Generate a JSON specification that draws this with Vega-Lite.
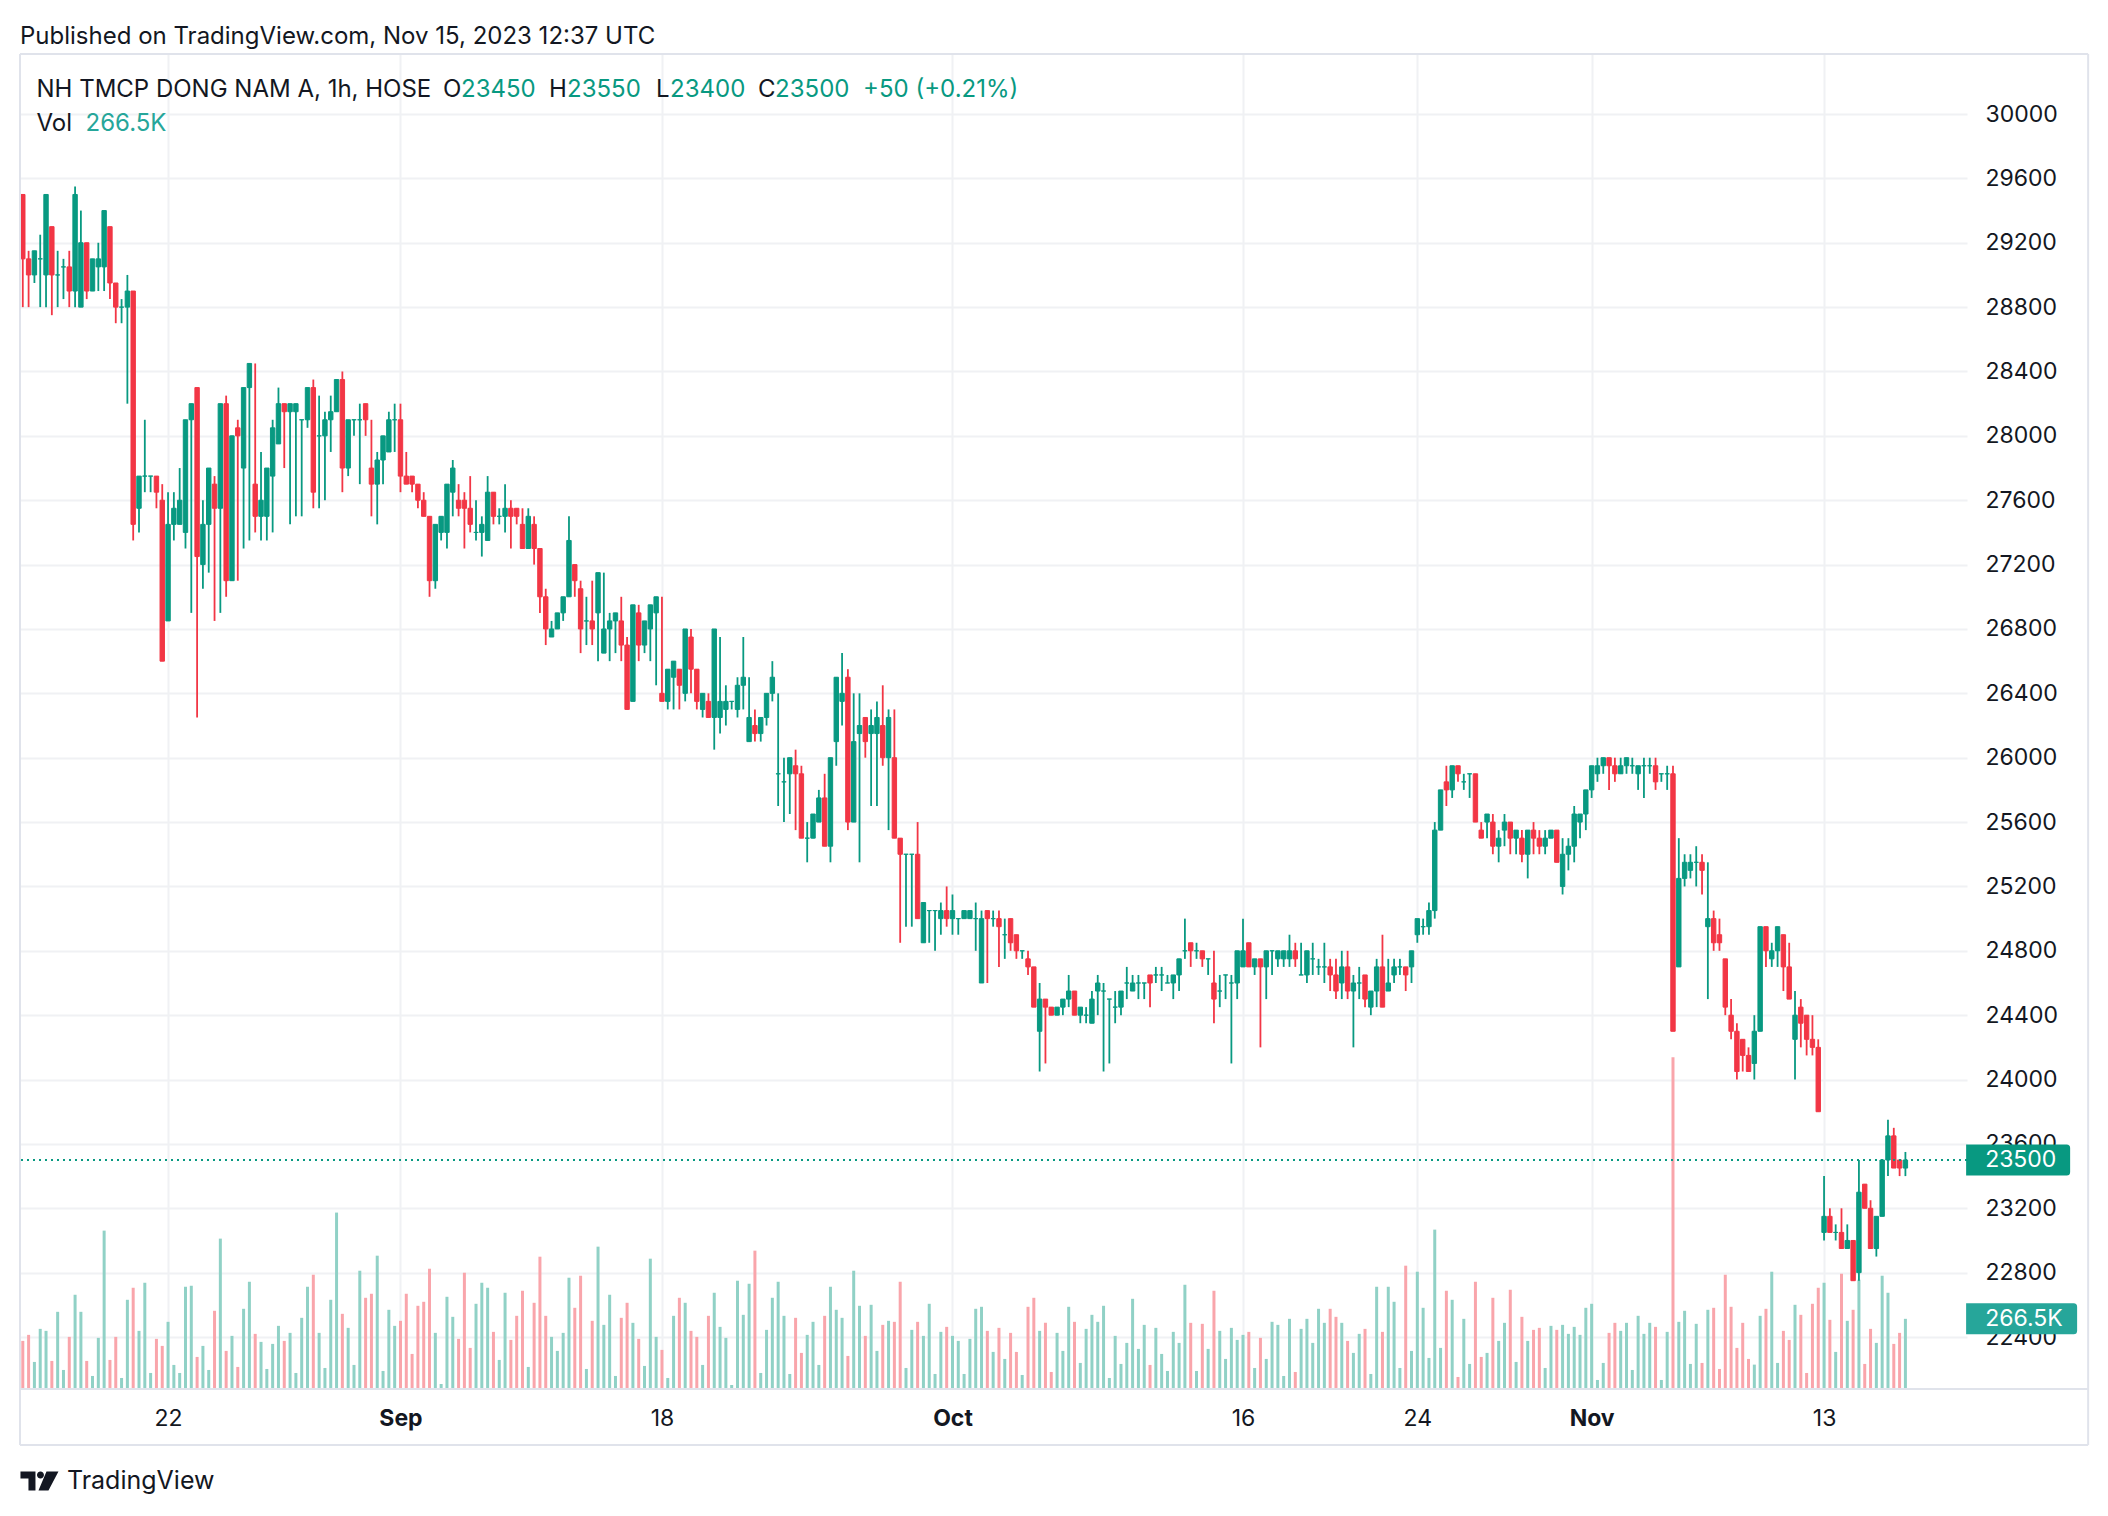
{
"$schema":"https://vega.github.io/schema/vega-lite/v6.json",
"width":1947,"height":1335,
"autosize":{"type":"none"},
"padding":{"left":20,"top":54,"right":141,"bottom":127},
"background":"#ffffff",
"config":{"view":{"stroke":null},"font":"Inter"},
"title":{"text":"Published on TradingView.com, Nov 15, 2023 12:37 UTC","anchor":"start","frame":"group","offset":4,"fontSize":24,"fontWeight":"normal","font":"Inter","color":"#131722"},
"datasets":{"bars":[
{"i":0,"o":29500,"h":29500,"l":28800,"c":29100,"v":182.7},
{"i":1,"o":29100,"h":29150,"l":28800,"c":29000,"v":205.6},
{"i":2,"o":29000,"h":29150,"l":28950,"c":29150,"v":102.8},
{"i":3,"o":29100,"h":29250,"l":28800,"c":29100,"v":228.4},
{"i":4,"o":29000,"h":29500,"l":28800,"c":29500,"v":220.8},
{"i":5,"o":29300,"h":29300,"l":28750,"c":29000,"v":106.6},
{"i":6,"o":29000,"h":29150,"l":28800,"c":29000,"v":293.1},
{"i":7,"o":29050,"h":29100,"l":28850,"c":29050,"v":72.3},
{"i":8,"o":29050,"h":29150,"l":28800,"c":28900,"v":198.0},
{"i":9,"o":28900,"h":29550,"l":28800,"c":29500,"v":357.9},
{"i":10,"o":28800,"h":29400,"l":28800,"c":29200,"v":293.1},
{"i":11,"o":29200,"h":29200,"l":28850,"c":28900,"v":106.6},
{"i":12,"o":28900,"h":29100,"l":28900,"c":29100,"v":49.5},
{"i":13,"o":29050,"h":29200,"l":28900,"c":29100,"v":194.2},
{"i":14,"o":29050,"h":29400,"l":28900,"c":29400,"v":601.5},
{"i":15,"o":29300,"h":29300,"l":28850,"c":28950,"v":110.4},
{"i":16,"o":28950,"h":28950,"l":28700,"c":28800,"v":198.0},
{"i":17,"o":28800,"h":28850,"l":28700,"c":28800,"v":41.9},
{"i":18,"o":28800,"h":29000,"l":28200,"c":28900,"v":338.8},
{"i":19,"o":28900,"h":28900,"l":27350,"c":27450,"v":384.5},
{"i":20,"o":27550,"h":27750,"l":27400,"c":27750,"v":220.8},
{"i":21,"o":27750,"h":28100,"l":27650,"c":27750,"v":403.5},
{"i":22,"o":27750,"h":27750,"l":27650,"c":27750,"v":60.9},
{"i":23,"o":27750,"h":27750,"l":27550,"c":27650,"v":190.4},
{"i":24,"o":27600,"h":27700,"l":26600,"c":26600,"v":163.7},
{"i":25,"o":26850,"h":27650,"l":26850,"c":27450,"v":255.1},
{"i":26,"o":27450,"h":27650,"l":27350,"c":27550,"v":91.4},
{"i":27,"o":27450,"h":27800,"l":27450,"c":27600,"v":60.9},
{"i":28,"o":27400,"h":28100,"l":27300,"c":28100,"v":388.3},
{"i":29,"o":28100,"h":28200,"l":26900,"c":28200,"v":392.1},
{"i":30,"o":28300,"h":28300,"l":26250,"c":27250,"v":121.8},
{"i":31,"o":27200,"h":27600,"l":27050,"c":27450,"v":163.7},
{"i":32,"o":27450,"h":27800,"l":27150,"c":27800,"v":72.3},
{"i":33,"o":27700,"h":27750,"l":26850,"c":27550,"v":297.0},
{"i":34,"o":27550,"h":28200,"l":26900,"c":28200,"v":571.1},
{"i":35,"o":28200,"h":28250,"l":27000,"c":27100,"v":144.7},
{"i":36,"o":27100,"h":28000,"l":27100,"c":28000,"v":201.8},
{"i":37,"o":28050,"h":28100,"l":27100,"c":28000,"v":83.8},
{"i":38,"o":27800,"h":28300,"l":27300,"c":28300,"v":304.6},
{"i":39,"o":28300,"h":28450,"l":27350,"c":28450,"v":407.3},
{"i":40,"o":27700,"h":28450,"l":27400,"c":27500,"v":209.4},
{"i":41,"o":27500,"h":27900,"l":27350,"c":27600,"v":178.9},
{"i":42,"o":27500,"h":27800,"l":27350,"c":27800,"v":76.1},
{"i":43,"o":27750,"h":28100,"l":27400,"c":28050,"v":171.3},
{"i":44,"o":27950,"h":28300,"l":27950,"c":28200,"v":239.8},
{"i":45,"o":28200,"h":28200,"l":27800,"c":28150,"v":182.7},
{"i":46,"o":28150,"h":28200,"l":27450,"c":28200,"v":213.2},
{"i":47,"o":28150,"h":28200,"l":27500,"c":28200,"v":60.9},
{"i":48,"o":28100,"h":28100,"l":27500,"c":28100,"v":270.3},
{"i":49,"o":28100,"h":28300,"l":28050,"c":28300,"v":388.3},
{"i":50,"o":28300,"h":28350,"l":27550,"c":27650,"v":434.0},
{"i":51,"o":28000,"h":28250,"l":27550,"c":28000,"v":213.2},
{"i":52,"o":28000,"h":28150,"l":27600,"c":28100,"v":79.9},
{"i":53,"o":28100,"h":28250,"l":27900,"c":28150,"v":338.8},
{"i":54,"o":28150,"h":28350,"l":28150,"c":28350,"v":670.0},
{"i":55,"o":28350,"h":28400,"l":27650,"c":27800,"v":285.5},
{"i":56,"o":27800,"h":28100,"l":27750,"c":28100,"v":232.2},
{"i":57,"o":28100,"h":28100,"l":28000,"c":28100,"v":91.4},
{"i":58,"o":28100,"h":28200,"l":27700,"c":28100,"v":449.2},
{"i":59,"o":28200,"h":28200,"l":28000,"c":28100,"v":346.4},
{"i":60,"o":27800,"h":28100,"l":27500,"c":27700,"v":361.7},
{"i":61,"o":27700,"h":27900,"l":27450,"c":27850,"v":506.3},
{"i":62,"o":27850,"h":28000,"l":27700,"c":28000,"v":68.5},
{"i":63,"o":27900,"h":28150,"l":27900,"c":28100,"v":300.8},
{"i":64,"o":28100,"h":28200,"l":27900,"c":28100,"v":239.8},
{"i":65,"o":28100,"h":28200,"l":27650,"c":27750,"v":258.9},
{"i":66,"o":27750,"h":27900,"l":27700,"c":27700,"v":361.7},
{"i":67,"o":27750,"h":27750,"l":27650,"c":27700,"v":133.2},
{"i":68,"o":27700,"h":27700,"l":27550,"c":27600,"v":316.0},
{"i":69,"o":27600,"h":27650,"l":27500,"c":27500,"v":331.2},
{"i":70,"o":27500,"h":27500,"l":27000,"c":27100,"v":456.8},
{"i":71,"o":27100,"h":27450,"l":27050,"c":27450,"v":213.2},
{"i":72,"o":27400,"h":27500,"l":27350,"c":27500,"v":19.0},
{"i":73,"o":27400,"h":27700,"l":27300,"c":27700,"v":350.2},
{"i":74,"o":27650,"h":27850,"l":27500,"c":27800,"v":274.1},
{"i":75,"o":27600,"h":27700,"l":27500,"c":27550,"v":190.4},
{"i":76,"o":27600,"h":27650,"l":27300,"c":27550,"v":441.6},
{"i":77,"o":27550,"h":27750,"l":27400,"c":27450,"v":156.1},
{"i":78,"o":27400,"h":27600,"l":27350,"c":27400,"v":323.6},
{"i":79,"o":27400,"h":27500,"l":27250,"c":27450,"v":403.5},
{"i":80,"o":27350,"h":27750,"l":27350,"c":27650,"v":384.5},
{"i":81,"o":27650,"h":27650,"l":27450,"c":27500,"v":217.0},
{"i":82,"o":27500,"h":27550,"l":27450,"c":27500,"v":110.4},
{"i":83,"o":27500,"h":27700,"l":27400,"c":27550,"v":365.5},
{"i":84,"o":27550,"h":27600,"l":27300,"c":27500,"v":186.5},
{"i":85,"o":27550,"h":27550,"l":27450,"c":27500,"v":277.9},
{"i":86,"o":27450,"h":27550,"l":27300,"c":27300,"v":373.1},
{"i":87,"o":27300,"h":27550,"l":27300,"c":27500,"v":83.8},
{"i":88,"o":27450,"h":27500,"l":27200,"c":27300,"v":327.4},
{"i":89,"o":27300,"h":27300,"l":26900,"c":27000,"v":502.5},
{"i":90,"o":27000,"h":27050,"l":26700,"c":26800,"v":277.9},
{"i":91,"o":26750,"h":26850,"l":26750,"c":26800,"v":198.0},
{"i":92,"o":26800,"h":26900,"l":26800,"c":26900,"v":144.7},
{"i":93,"o":26900,"h":27000,"l":26850,"c":27000,"v":213.2},
{"i":94,"o":27000,"h":27500,"l":27000,"c":27350,"v":422.6},
{"i":95,"o":27200,"h":27200,"l":27000,"c":27100,"v":308.4},
{"i":96,"o":27050,"h":27100,"l":26650,"c":26800,"v":430.2},
{"i":97,"o":26850,"h":27000,"l":26700,"c":26850,"v":76.1},
{"i":98,"o":26850,"h":27100,"l":26700,"c":26800,"v":258.9},
{"i":99,"o":26900,"h":27150,"l":26600,"c":27150,"v":540.6},
{"i":100,"o":26650,"h":27150,"l":26650,"c":26800,"v":243.6},
{"i":101,"o":26800,"h":26900,"l":26600,"c":26850,"v":357.9},
{"i":102,"o":26850,"h":26900,"l":26650,"c":26900,"v":49.5},
{"i":103,"o":26850,"h":27000,"l":26600,"c":26700,"v":270.3},
{"i":104,"o":26700,"h":26750,"l":26300,"c":26300,"v":327.4},
{"i":105,"o":26350,"h":26950,"l":26350,"c":26950,"v":251.3},
{"i":106,"o":26900,"h":26950,"l":26600,"c":26700,"v":190.4},
{"i":107,"o":26700,"h":26850,"l":26650,"c":26850,"v":87.6},
{"i":108,"o":26800,"h":26950,"l":26600,"c":26950,"v":494.9},
{"i":109,"o":26900,"h":27000,"l":26450,"c":27000,"v":198.0},
{"i":110,"o":26400,"h":27000,"l":26350,"c":26350,"v":148.5},
{"i":111,"o":26350,"h":26550,"l":26300,"c":26550,"v":41.9},
{"i":112,"o":26500,"h":26600,"l":26300,"c":26600,"v":277.9},
{"i":113,"o":26550,"h":26550,"l":26300,"c":26450,"v":346.4},
{"i":114,"o":26400,"h":26800,"l":26350,"c":26800,"v":327.4},
{"i":115,"o":26750,"h":26800,"l":26400,"c":26550,"v":220.8},
{"i":116,"o":26550,"h":26550,"l":26300,"c":26350,"v":198.0},
{"i":117,"o":26300,"h":26400,"l":26250,"c":26400,"v":91.4},
{"i":118,"o":26350,"h":26400,"l":26250,"c":26250,"v":277.9},
{"i":119,"o":26250,"h":26800,"l":26050,"c":26800,"v":365.5},
{"i":120,"o":26250,"h":26750,"l":26150,"c":26350,"v":236.0},
{"i":121,"o":26300,"h":26450,"l":26200,"c":26350,"v":194.2},
{"i":122,"o":26350,"h":26350,"l":26300,"c":26350,"v":15.2},
{"i":123,"o":26300,"h":26500,"l":26250,"c":26450,"v":411.2},
{"i":124,"o":26450,"h":26750,"l":26300,"c":26500,"v":281.7},
{"i":125,"o":26100,"h":26500,"l":26100,"c":26250,"v":399.7},
{"i":126,"o":26200,"h":26300,"l":26100,"c":26150,"v":525.4},
{"i":127,"o":26150,"h":26250,"l":26100,"c":26250,"v":60.9},
{"i":128,"o":26250,"h":26400,"l":26200,"c":26400,"v":224.6},
{"i":129,"o":26400,"h":26600,"l":26350,"c":26500,"v":346.4},
{"i":130,"o":25900,"h":26400,"l":25700,"c":25900,"v":407.3},
{"i":131,"o":25850,"h":26000,"l":25600,"c":25850,"v":277.9},
{"i":132,"o":25900,"h":26000,"l":25650,"c":26000,"v":57.1},
{"i":133,"o":25950,"h":26050,"l":25550,"c":25900,"v":270.3},
{"i":134,"o":25900,"h":25950,"l":25500,"c":25500,"v":137.1},
{"i":135,"o":25500,"h":25600,"l":25350,"c":25500,"v":205.6},
{"i":136,"o":25500,"h":25650,"l":25500,"c":25650,"v":255.1},
{"i":137,"o":25600,"h":25800,"l":25600,"c":25750,"v":91.4},
{"i":138,"o":25750,"h":25900,"l":25450,"c":25450,"v":277.9},
{"i":139,"o":25450,"h":26000,"l":25350,"c":26000,"v":388.3},
{"i":140,"o":26100,"h":26500,"l":25950,"c":26500,"v":300.8},
{"i":141,"o":26350,"h":26650,"l":26200,"c":26400,"v":270.3},
{"i":142,"o":26500,"h":26550,"l":25550,"c":25600,"v":125.6},
{"i":143,"o":25600,"h":26400,"l":25600,"c":26100,"v":449.2},
{"i":144,"o":26150,"h":26400,"l":25350,"c":26200,"v":316.0},
{"i":145,"o":26250,"h":26250,"l":26000,"c":26100,"v":201.8},
{"i":146,"o":26150,"h":26300,"l":25700,"c":26200,"v":319.8},
{"i":147,"o":26150,"h":26350,"l":25700,"c":26250,"v":144.7},
{"i":148,"o":26200,"h":26450,"l":25950,"c":26000,"v":243.6},
{"i":149,"o":26000,"h":26300,"l":25550,"c":26250,"v":258.9},
{"i":150,"o":26000,"h":26300,"l":25500,"c":25500,"v":255.1},
{"i":151,"o":25500,"h":25500,"l":24850,"c":25400,"v":407.3},
{"i":152,"o":25400,"h":25400,"l":24950,"c":25400,"v":79.9},
{"i":153,"o":25400,"h":25400,"l":24950,"c":25400,"v":224.6},
{"i":154,"o":25400,"h":25600,"l":25000,"c":25000,"v":255.1},
{"i":155,"o":24850,"h":25100,"l":24850,"c":25100,"v":201.8},
{"i":156,"o":25050,"h":25050,"l":24850,"c":25050,"v":323.6},
{"i":157,"o":25050,"h":25050,"l":24800,"c":25050,"v":57.1},
{"i":158,"o":25000,"h":25100,"l":24900,"c":25050,"v":217.0},
{"i":159,"o":25050,"h":25200,"l":24950,"c":25000,"v":236.0},
{"i":160,"o":25000,"h":25150,"l":24900,"c":25050,"v":201.8},
{"i":161,"o":25000,"h":25000,"l":24900,"c":25000,"v":182.7},
{"i":162,"o":25000,"h":25050,"l":25000,"c":25050,"v":57.1},
{"i":163,"o":25000,"h":25050,"l":25000,"c":25050,"v":190.4},
{"i":164,"o":25000,"h":25100,"l":24800,"c":25000,"v":304.6},
{"i":165,"o":24600,"h":25050,"l":24600,"c":25000,"v":312.2},
{"i":166,"o":25050,"h":25050,"l":24600,"c":25000,"v":220.8},
{"i":167,"o":25000,"h":25050,"l":24950,"c":25000,"v":140.9},
{"i":168,"o":25000,"h":25050,"l":24700,"c":24950,"v":232.2},
{"i":169,"o":24900,"h":25000,"l":24750,"c":24900,"v":114.2},
{"i":170,"o":25000,"h":25000,"l":24800,"c":24850,"v":213.2},
{"i":171,"o":24900,"h":24900,"l":24750,"c":24800,"v":140.9},
{"i":172,"o":24800,"h":24800,"l":24750,"c":24800,"v":53.3},
{"i":173,"o":24750,"h":24800,"l":24650,"c":24700,"v":312.2},
{"i":174,"o":24700,"h":24700,"l":24450,"c":24450,"v":346.4},
{"i":175,"o":24300,"h":24600,"l":24050,"c":24500,"v":220.8},
{"i":176,"o":24500,"h":24500,"l":24100,"c":24450,"v":251.3},
{"i":177,"o":24450,"h":24450,"l":24400,"c":24400,"v":64.7},
{"i":178,"o":24400,"h":24450,"l":24400,"c":24450,"v":213.2},
{"i":179,"o":24450,"h":24500,"l":24400,"c":24500,"v":144.7},
{"i":180,"o":24500,"h":24650,"l":24450,"c":24550,"v":312.2},
{"i":181,"o":24550,"h":24550,"l":24400,"c":24400,"v":255.1},
{"i":182,"o":24400,"h":24450,"l":24350,"c":24450,"v":99.0},
{"i":183,"o":24400,"h":24450,"l":24350,"c":24400,"v":228.4},
{"i":184,"o":24350,"h":24550,"l":24350,"c":24500,"v":281.7},
{"i":185,"o":24550,"h":24650,"l":24400,"c":24600,"v":255.1},
{"i":186,"o":24550,"h":24600,"l":24050,"c":24550,"v":316.0},
{"i":187,"o":24500,"h":24500,"l":24100,"c":24500,"v":41.9},
{"i":188,"o":24450,"h":24550,"l":24350,"c":24450,"v":201.8},
{"i":189,"o":24450,"h":24550,"l":24400,"c":24550,"v":95.2},
{"i":190,"o":24600,"h":24700,"l":24500,"c":24600,"v":175.1},
{"i":191,"o":24550,"h":24650,"l":24550,"c":24600,"v":342.6},
{"i":192,"o":24600,"h":24650,"l":24500,"c":24600,"v":152.3},
{"i":193,"o":24600,"h":24600,"l":24500,"c":24600,"v":243.6},
{"i":194,"o":24650,"h":24650,"l":24450,"c":24600,"v":91.4},
{"i":195,"o":24650,"h":24700,"l":24600,"c":24650,"v":232.2},
{"i":196,"o":24650,"h":24700,"l":24550,"c":24650,"v":133.2},
{"i":197,"o":24600,"h":24650,"l":24600,"c":24600,"v":68.5},
{"i":198,"o":24600,"h":24650,"l":24500,"c":24650,"v":217.0},
{"i":199,"o":24650,"h":24750,"l":24550,"c":24750,"v":175.1},
{"i":200,"o":24800,"h":25000,"l":24750,"c":24800,"v":395.9},
{"i":201,"o":24850,"h":24850,"l":24700,"c":24800,"v":251.3},
{"i":202,"o":24800,"h":24850,"l":24750,"c":24800,"v":68.5},
{"i":203,"o":24800,"h":24800,"l":24700,"c":24750,"v":247.5},
{"i":204,"o":24750,"h":24750,"l":24650,"c":24750,"v":152.3},
{"i":205,"o":24600,"h":24800,"l":24350,"c":24500,"v":373.1},
{"i":206,"o":24550,"h":24650,"l":24450,"c":24550,"v":220.8},
{"i":207,"o":24650,"h":24650,"l":24500,"c":24650,"v":114.2},
{"i":208,"o":24600,"h":24650,"l":24100,"c":24600,"v":232.2},
{"i":209,"o":24600,"h":24800,"l":24500,"c":24800,"v":186.5},
{"i":210,"o":24700,"h":25000,"l":24700,"c":24800,"v":205.6},
{"i":211,"o":24850,"h":24850,"l":24700,"c":24700,"v":217.0},
{"i":212,"o":24700,"h":24750,"l":24650,"c":24750,"v":79.9},
{"i":213,"o":24750,"h":24750,"l":24200,"c":24700,"v":194.2},
{"i":214,"o":24700,"h":24800,"l":24500,"c":24800,"v":114.2},
{"i":215,"o":24800,"h":24800,"l":24650,"c":24800,"v":255.1},
{"i":216,"o":24750,"h":24800,"l":24700,"c":24800,"v":243.6},
{"i":217,"o":24750,"h":24800,"l":24700,"c":24800,"v":49.5},
{"i":218,"o":24750,"h":24900,"l":24700,"c":24800,"v":266.5},
{"i":219,"o":24800,"h":24850,"l":24700,"c":24750,"v":64.7},
{"i":220,"o":24650,"h":24850,"l":24650,"c":24650,"v":228.4},
{"i":221,"o":24650,"h":24800,"l":24600,"c":24800,"v":266.5},
{"i":222,"o":24750,"h":24850,"l":24650,"c":24750,"v":175.1},
{"i":223,"o":24700,"h":24750,"l":24650,"c":24700,"v":304.6},
{"i":224,"o":24700,"h":24850,"l":24600,"c":24700,"v":251.3},
{"i":225,"o":24700,"h":24750,"l":24550,"c":24650,"v":304.6},
{"i":226,"o":24650,"h":24750,"l":24500,"c":24550,"v":274.1},
{"i":227,"o":24600,"h":24800,"l":24500,"c":24700,"v":251.3},
{"i":228,"o":24700,"h":24800,"l":24500,"c":24550,"v":182.7},
{"i":229,"o":24550,"h":24650,"l":24200,"c":24600,"v":137.1},
{"i":230,"o":24600,"h":24700,"l":24500,"c":24600,"v":209.4},
{"i":231,"o":24650,"h":24650,"l":24450,"c":24500,"v":228.4},
{"i":232,"o":24450,"h":24550,"l":24400,"c":24550,"v":57.1},
{"i":233,"o":24550,"h":24750,"l":24450,"c":24700,"v":388.3},
{"i":234,"o":24700,"h":24900,"l":24450,"c":24450,"v":217.0},
{"i":235,"o":24550,"h":24750,"l":24550,"c":24600,"v":388.3},
{"i":236,"o":24650,"h":24750,"l":24600,"c":24700,"v":331.2},
{"i":237,"o":24700,"h":24750,"l":24650,"c":24700,"v":79.9},
{"i":238,"o":24700,"h":24700,"l":24550,"c":24650,"v":468.3},
{"i":239,"o":24700,"h":24800,"l":24600,"c":24800,"v":144.7},
{"i":240,"o":24900,"h":25000,"l":24850,"c":25000,"v":445.4},
{"i":241,"o":24950,"h":25000,"l":24900,"c":24950,"v":308.4},
{"i":242,"o":24950,"h":25100,"l":24900,"c":25050,"v":118.0},
{"i":243,"o":25050,"h":25600,"l":25000,"c":25550,"v":605.3},
{"i":244,"o":25550,"h":25800,"l":25550,"c":25800,"v":156.1},
{"i":245,"o":25850,"h":25950,"l":25700,"c":25800,"v":373.1},
{"i":246,"o":25800,"h":25950,"l":25750,"c":25950,"v":338.8},
{"i":247,"o":25950,"h":25950,"l":25850,"c":25900,"v":45.7},
{"i":248,"o":25850,"h":25900,"l":25800,"c":25850,"v":266.5},
{"i":249,"o":25900,"h":25900,"l":25750,"c":25900,"v":95.2},
{"i":250,"o":25900,"h":25900,"l":25600,"c":25600,"v":407.3},
{"i":251,"o":25550,"h":25600,"l":25500,"c":25500,"v":121.8},
{"i":252,"o":25600,"h":25650,"l":25500,"c":25650,"v":137.1},
{"i":253,"o":25600,"h":25650,"l":25400,"c":25450,"v":346.4},
{"i":254,"o":25450,"h":25550,"l":25350,"c":25500,"v":182.7},
{"i":255,"o":25550,"h":25650,"l":25450,"c":25600,"v":251.3},
{"i":256,"o":25600,"h":25600,"l":25400,"c":25500,"v":376.9},
{"i":257,"o":25500,"h":25550,"l":25400,"c":25550,"v":102.8},
{"i":258,"o":25500,"h":25550,"l":25350,"c":25400,"v":274.1},
{"i":259,"o":25400,"h":25550,"l":25250,"c":25550,"v":182.7},
{"i":260,"o":25550,"h":25600,"l":25400,"c":25500,"v":224.6},
{"i":261,"o":25500,"h":25550,"l":25400,"c":25450,"v":232.2},
{"i":262,"o":25450,"h":25550,"l":25400,"c":25500,"v":79.9},
{"i":263,"o":25500,"h":25550,"l":25500,"c":25550,"v":239.8},
{"i":264,"o":25550,"h":25550,"l":25350,"c":25350,"v":224.6},
{"i":265,"o":25200,"h":25500,"l":25150,"c":25400,"v":243.6},
{"i":266,"o":25400,"h":25500,"l":25300,"c":25450,"v":209.4},
{"i":267,"o":25450,"h":25700,"l":25350,"c":25650,"v":236.0},
{"i":268,"o":25600,"h":25650,"l":25500,"c":25650,"v":205.6},
{"i":269,"o":25650,"h":25800,"l":25550,"c":25800,"v":308.4},
{"i":270,"o":25800,"h":25950,"l":25750,"c":25950,"v":323.6},
{"i":271,"o":25900,"h":26000,"l":25850,"c":25950,"v":34.3},
{"i":272,"o":25950,"h":26000,"l":25900,"c":26000,"v":99.0},
{"i":273,"o":26000,"h":26000,"l":25800,"c":25950,"v":213.2},
{"i":274,"o":25950,"h":26000,"l":25850,"c":25900,"v":251.3},
{"i":275,"o":25900,"h":26000,"l":25900,"c":25950,"v":220.8},
{"i":276,"o":25950,"h":26000,"l":25900,"c":26000,"v":251.3},
{"i":277,"o":25950,"h":26000,"l":25900,"c":25950,"v":72.3},
{"i":278,"o":25900,"h":25950,"l":25800,"c":25950,"v":277.9},
{"i":279,"o":25950,"h":26000,"l":25750,"c":25950,"v":209.4},
{"i":280,"o":25950,"h":26000,"l":25900,"c":25950,"v":251.3},
{"i":281,"o":25950,"h":26000,"l":25800,"c":25850,"v":236.0},
{"i":282,"o":25900,"h":25900,"l":25850,"c":25900,"v":34.3},
{"i":283,"o":25900,"h":25950,"l":25800,"c":25900,"v":217.0},
{"i":284,"o":25900,"h":25950,"l":24300,"c":24300,"v":1260.0},
{"i":285,"o":24700,"h":25500,"l":24700,"c":25250,"v":255.1},
{"i":286,"o":25250,"h":25400,"l":25200,"c":25350,"v":297.0},
{"i":287,"o":25300,"h":25400,"l":25250,"c":25350,"v":95.2},
{"i":288,"o":25350,"h":25450,"l":25200,"c":25350,"v":247.5},
{"i":289,"o":25350,"h":25400,"l":25150,"c":25300,"v":99.0},
{"i":290,"o":24950,"h":25350,"l":24500,"c":25000,"v":300.8},
{"i":291,"o":25000,"h":25050,"l":24800,"c":24850,"v":308.4},
{"i":292,"o":24900,"h":25000,"l":24800,"c":24850,"v":76.1},
{"i":293,"o":24750,"h":24750,"l":24400,"c":24450,"v":434.0},
{"i":294,"o":24400,"h":24500,"l":24250,"c":24300,"v":312.2},
{"i":295,"o":24300,"h":24350,"l":24000,"c":24050,"v":156.1},
{"i":296,"o":24250,"h":24250,"l":24050,"c":24150,"v":251.3},
{"i":297,"o":24150,"h":24200,"l":24050,"c":24050,"v":114.2},
{"i":298,"o":24100,"h":24400,"l":24000,"c":24300,"v":92.6},
{"i":299,"o":24300,"h":24950,"l":24300,"c":24950,"v":277.9},
{"i":300,"o":24950,"h":24950,"l":24700,"c":24800,"v":304.6},
{"i":301,"o":24750,"h":24850,"l":24700,"c":24800,"v":445.4},
{"i":302,"o":24800,"h":24950,"l":24700,"c":24950,"v":99.0},
{"i":303,"o":24900,"h":24900,"l":24550,"c":24700,"v":220.8},
{"i":304,"o":24700,"h":24850,"l":24500,"c":24500,"v":186.5},
{"i":305,"o":24250,"h":24550,"l":24000,"c":24400,"v":319.8},
{"i":306,"o":24450,"h":24500,"l":24200,"c":24350,"v":281.7},
{"i":307,"o":24400,"h":24400,"l":24150,"c":24250,"v":60.9},
{"i":308,"o":24250,"h":24400,"l":24150,"c":24200,"v":323.6},
{"i":309,"o":24200,"h":24250,"l":23800,"c":23800,"v":384.5},
{"i":310,"o":23050,"h":23400,"l":23000,"c":23150,"v":403.5},
{"i":311,"o":23150,"h":23200,"l":23050,"c":23050,"v":262.7},
{"i":312,"o":23050,"h":23100,"l":23000,"c":23050,"v":140.9},
{"i":313,"o":23050,"h":23200,"l":22950,"c":22950,"v":437.8},
{"i":314,"o":22950,"h":23100,"l":22950,"c":23000,"v":258.9},
{"i":315,"o":23000,"h":23000,"l":22750,"c":22750,"v":300.8},
{"i":316,"o":22800,"h":23500,"l":22750,"c":23300,"v":415.0},
{"i":317,"o":23350,"h":23350,"l":23200,"c":23200,"v":95.2},
{"i":318,"o":23200,"h":23250,"l":22950,"c":22950,"v":228.4},
{"i":319,"o":22950,"h":23150,"l":22900,"c":23150,"v":175.1},
{"i":320,"o":23150,"h":23500,"l":23150,"c":23500,"v":430.2},
{"i":321,"o":23500,"h":23750,"l":23400,"c":23650,"v":365.5},
{"i":322,"o":23650,"h":23700,"l":23450,"c":23450,"v":171.3},
{"i":323,"o":23500,"h":23500,"l":23400,"c":23450,"v":213.2},
{"i":324,"o":23450,"h":23550,"l":23400,"c":23500,"v":266.5}
]},
"data":{"name":"bars"},
"layer":[
{"layer":[
 {"mark":{"type":"bar","width":3,"orient":"vertical"},
  "encoding":{
   "x":{"field":"i","type":"quantitative","title":null,"scale":{"domain":[-0.48,334.6],"nice":false,"zero":false,"padding":0}},
   "y":{"field":"v","type":"quantitative","scale":{"domain":[0,5070],"nice":false,"zero":true},"axis":null},
   "color":{"condition":{"test":"datum.c >= datum.o","value":"#90D1C6"},"value":"#F9A5AB"}}},
 {"transform":[{"filter":"datum.i == 324"}],
  "mark":{"type":"point","shape":"M-55.5,-15.5 L52,-15.5 Q55.5,-15.5 55.5,-12 L55.5,12 Q55.5,15.5 52,15.5 L-55.5,15.5 Z","size":4,"filled":true,"color":"#26A69A","opacity":1,"strokeWidth":0},
  "encoding":{
   "x":{"datum":344.0,"scale":{"domain":[-0.48,334.6],"nice":false,"zero":false,"padding":0}},
   "y":{"field":"v","type":"quantitative","scale":{"domain":[0,5070],"nice":false,"zero":true},"axis":null}}},
 {"transform":[{"filter":"datum.i == 324"},{"calculate":"format(datum.v,'.1f')+'K'","as":"vl"}],
  "mark":{"type":"text","align":"left","baseline":"middle","color":"#ffffff","fontSize":23,"font":"Inter"},
  "encoding":{
   "x":{"datum":337.72,"scale":{"domain":[-0.48,334.6],"nice":false,"zero":false,"padding":0}},
   "y":{"field":"v","type":"quantitative","scale":{"domain":[0,5070],"nice":false,"zero":true},"axis":null},
   "text":{"field":"vl"}}}
]},
{"layer":[
 {"mark":{"type":"rule","strokeWidth":1.8},
  "encoding":{
   "x":{"field":"i","type":"quantitative","scale":{"domain":[-0.48,334.6],"nice":false,"zero":false,"padding":0},
        "axis":{"orient":"bottom","values":[25,65,110,160,210,240,270,310],"title":null,"grid":true,"gridColor":"#F0F1F4","gridWidth":2,"ticks":false,"domain":false,"labelPadding":18,"labelFontSize":23,"labelFont":"Inter","labelColor":"#131722","labelFlush":false,"labelOverlap":false,
          "labelExpr":"datum.value==25?'22':datum.value==65?'Sep':datum.value==110?'18':datum.value==160?'Oct':datum.value==210?'16':datum.value==240?'24':datum.value==270?'Nov':'13'",
          "labelFontWeight":{"condition":{"test":"datum.value==65||datum.value==160||datum.value==270","value":"bold"},"value":"normal"}}},
   "y":{"field":"l","type":"quantitative","scale":{"domain":[22077,30373],"nice":false,"zero":false},
        "axis":{"orient":"right","values":[22400,22800,23200,23600,24000,24400,24800,25200,25600,26000,26400,26800,27200,27600,28000,28400,28800,29200,29600,30000],"format":"d","title":null,"grid":true,"gridColor":"#F0F1F4","gridWidth":2,"ticks":false,"domain":false,"labelPadding":18,"labelFontSize":23,"labelFont":"Inter","labelColor":"#131722","labelAlign":"left","labelOverlap":false}},
   "y2":{"field":"h"},
   "color":{"condition":{"test":"datum.c >= datum.o","value":"#089981"},"value":"#F23645"}}},
 {"mark":{"type":"bar","width":4.4,"strokeWidth":1},
  "encoding":{
   "x":{"field":"i","type":"quantitative","title":null,"scale":{"domain":[-0.48,334.6],"nice":false,"zero":false,"padding":0}},
   "y":{"field":"o","type":"quantitative","title":null,"scale":{"domain":[22077,30373],"nice":false,"zero":false}},
   "y2":{"field":"c"},
   "fill":{"condition":{"test":"datum.c >= datum.o","value":"#089981"},"value":"#F23645"},
   "stroke":{"condition":{"test":"datum.c >= datum.o","value":"#089981"},"value":"#F23645"}}},
 {"data":{"values":[{}]},"mark":{"type":"rule","color":"#E0E3EB","strokeWidth":2},
  "encoding":{"x":{"datum":-0.48,"scale":{"domain":[-0.48,334.6],"nice":false,"zero":false,"padding":0}},"x2":{"datum":355.45},"y":{"datum":30373,"scale":{"domain":[22077,30373],"nice":false,"zero":false}}}},
 {"data":{"values":[{}]},"mark":{"type":"rule","color":"#E0E3EB","strokeWidth":2},
  "encoding":{"x":{"datum":-0.48,"scale":{"domain":[-0.48,334.6],"nice":false,"zero":false,"padding":0}},"x2":{"datum":355.45},"y":{"datum":22077,"scale":{"domain":[22077,30373],"nice":false,"zero":false}}}},
 {"data":{"values":[{}]},"mark":{"type":"rule","color":"#E0E3EB","strokeWidth":2},
  "encoding":{"x":{"datum":-0.48,"scale":{"domain":[-0.48,334.6],"nice":false,"zero":false,"padding":0}},"x2":{"datum":355.45},"y":{"datum":21729,"scale":{"domain":[22077,30373],"nice":false,"zero":false}}}},
 {"data":{"values":[{}]},"mark":{"type":"rule","color":"#E0E3EB","strokeWidth":2},
  "encoding":{"x":{"datum":-0.48,"scale":{"domain":[-0.48,334.6],"nice":false,"zero":false,"padding":0}},"y":{"datum":30373,"scale":{"domain":[22077,30373],"nice":false,"zero":false}},"y2":{"datum":21729}}},
 {"data":{"values":[{}]},"mark":{"type":"rule","color":"#E0E3EB","strokeWidth":2},
  "encoding":{"x":{"datum":355.45,"scale":{"domain":[-0.48,334.6],"nice":false,"zero":false,"padding":0}},"y":{"datum":30373,"scale":{"domain":[22077,30373],"nice":false,"zero":false}},"y2":{"datum":21729}}},
 {"transform":[{"filter":"datum.i == 324"}],
  "mark":{"type":"rule","color":"#089981","strokeWidth":2,"strokeDash":[2,4]},
  "encoding":{"y":{"field":"c","type":"quantitative","title":null,"scale":{"domain":[22077,30373],"nice":false,"zero":false}}}},
 {"transform":[{"filter":"datum.i == 324"}],
  "mark":{"type":"point","shape":"M-52,-15.5 L48.5,-15.5 Q52,-15.5 52,-12 L52,12 Q52,15.5 48.5,15.5 L-52,15.5 Z","size":4,"filled":true,"color":"#089981","opacity":1,"strokeWidth":0},
  "encoding":{
   "x":{"datum":343.4,"scale":{"domain":[-0.48,334.6],"nice":false,"zero":false,"padding":0}},
   "y":{"field":"c","type":"quantitative","title":null,"scale":{"domain":[22077,30373],"nice":false,"zero":false}}}},
 {"transform":[{"filter":"datum.i == 324"}],
  "mark":{"type":"text","align":"left","baseline":"middle","color":"#ffffff","fontSize":23,"font":"Inter"},
  "encoding":{
   "x":{"datum":337.72,"scale":{"domain":[-0.48,334.6],"nice":false,"zero":false,"padding":0}},
   "y":{"field":"c","type":"quantitative","title":null,"scale":{"domain":[22077,30373],"nice":false,"zero":false}},
   "text":{"field":"c","format":"d"}}},
 {"data":{"values":[{}]},
  "mark":{"type":"text","align":"left","baseline":"middle","color":"#131722","fontSize":24,"font":"Inter","text":"NH TMCP DONG NAM A, 1h, HOSE"},
  "encoding":{"x":{"datum":2.36,"scale":{"domain":[-0.48,334.6],"nice":false,"zero":false,"padding":0}},"y":{"datum":30149,"scale":{"domain":[22077,30373],"nice":false,"zero":false}}}},
 {"data":{"values":[{}]},
  "mark":{"type":"text","align":"left","baseline":"middle","color":"#131722","fontSize":24,"font":"Inter","text":"O"},
  "encoding":{"x":{"datum":72.32,"scale":{"domain":[-0.48,334.6],"nice":false,"zero":false,"padding":0}},"y":{"datum":30149,"scale":{"domain":[22077,30373],"nice":false,"zero":false}}}},
 {"data":{"values":[{}]},
  "mark":{"type":"text","align":"left","baseline":"middle","color":"#131722","fontSize":24,"font":"Inter","text":"H"},
  "encoding":{"x":{"datum":90.57,"scale":{"domain":[-0.48,334.6],"nice":false,"zero":false,"padding":0}},"y":{"datum":30149,"scale":{"domain":[22077,30373],"nice":false,"zero":false}}}},
 {"data":{"values":[{}]},
  "mark":{"type":"text","align":"left","baseline":"middle","color":"#131722","fontSize":24,"font":"Inter","text":"L"},
  "encoding":{"x":{"datum":108.98,"scale":{"domain":[-0.48,334.6],"nice":false,"zero":false,"padding":0}},"y":{"datum":30149,"scale":{"domain":[22077,30373],"nice":false,"zero":false}}}},
 {"data":{"values":[{}]},
  "mark":{"type":"text","align":"left","baseline":"middle","color":"#131722","fontSize":24,"font":"Inter","text":"C"},
  "encoding":{"x":{"datum":126.54,"scale":{"domain":[-0.48,334.6],"nice":false,"zero":false,"padding":0}},"y":{"datum":30149,"scale":{"domain":[22077,30373],"nice":false,"zero":false}}}},
 {"transform":[{"filter":"datum.i == 324"}],
  "mark":{"type":"text","align":"left","baseline":"middle","color":"#089981","fontSize":24,"font":"Inter"},
  "encoding":{"x":{"datum":75.42,"scale":{"domain":[-0.48,334.6],"nice":false,"zero":false,"padding":0}},"y":{"datum":30149,"scale":{"domain":[22077,30373],"nice":false,"zero":false}},"text":{"field":"o","format":"d"}}},
 {"transform":[{"filter":"datum.i == 324"}],
  "mark":{"type":"text","align":"left","baseline":"middle","color":"#089981","fontSize":24,"font":"Inter"},
  "encoding":{"x":{"datum":93.67,"scale":{"domain":[-0.48,334.6],"nice":false,"zero":false,"padding":0}},"y":{"datum":30149,"scale":{"domain":[22077,30373],"nice":false,"zero":false}},"text":{"field":"h","format":"d"}}},
 {"transform":[{"filter":"datum.i == 324"}],
  "mark":{"type":"text","align":"left","baseline":"middle","color":"#089981","fontSize":24,"font":"Inter"},
  "encoding":{"x":{"datum":111.39,"scale":{"domain":[-0.48,334.6],"nice":false,"zero":false,"padding":0}},"y":{"datum":30149,"scale":{"domain":[22077,30373],"nice":false,"zero":false}},"text":{"field":"l","format":"d"}}},
 {"transform":[{"filter":"datum.i == 324"}],
  "mark":{"type":"text","align":"left","baseline":"middle","color":"#089981","fontSize":24,"font":"Inter"},
  "encoding":{"x":{"datum":129.47,"scale":{"domain":[-0.48,334.6],"nice":false,"zero":false,"padding":0}},"y":{"datum":30149,"scale":{"domain":[22077,30373],"nice":false,"zero":false}},"text":{"field":"c","format":"d"}}},
 {"data":{"values":[{}]},
  "mark":{"type":"text","align":"left","baseline":"middle","color":"#089981","fontSize":24,"font":"Inter","text":"+50 (+0.21%)"},
  "encoding":{"x":{"datum":144.62,"scale":{"domain":[-0.48,334.6],"nice":false,"zero":false,"padding":0}},"y":{"datum":30149,"scale":{"domain":[22077,30373],"nice":false,"zero":false}}}},
 {"data":{"values":[{}]},
  "mark":{"type":"text","align":"left","baseline":"middle","color":"#131722","fontSize":24,"font":"Inter","text":"Vol"},
  "encoding":{"x":{"datum":2.36,"scale":{"domain":[-0.48,334.6],"nice":false,"zero":false,"padding":0}},"y":{"datum":29938,"scale":{"domain":[22077,30373],"nice":false,"zero":false}}}},
 {"transform":[{"filter":"datum.i == 324"},{"calculate":"format(datum.v,'.1f')+'K'","as":"vl"}],
  "mark":{"type":"text","align":"left","baseline":"middle","color":"#26A69A","fontSize":24,"font":"Inter"},
  "encoding":{"x":{"datum":10.81,"scale":{"domain":[-0.48,334.6],"nice":false,"zero":false,"padding":0}},"y":{"datum":29938,"scale":{"domain":[22077,30373],"nice":false,"zero":false}},"text":{"field":"vl"}}},
 {"data":{"values":[{}]},
  "mark":{"type":"point","shape":"M-19,-9.5 L-4,-9.5 L-4,9.5 L-11,9.5 L-11,-2.5 L-19,-2.5 Z M-2.5,-6 A3.5,3.5 0 1,0 4.5,-6 A3.5,3.5 0 1,0 -2.5,-6 Z M7,-9.5 L19,-9.5 L9,9.5 L-1,9.5 Z","size":4,"filled":true,"color":"#131722","opacity":1,"strokeWidth":0},
  "encoding":{"x":{"datum":2.87,"scale":{"domain":[-0.48,334.6],"nice":false,"zero":false,"padding":0}},"y":{"datum":21505,"scale":{"domain":[22077,30373],"nice":false,"zero":false}}}},
 {"data":{"values":[{}]},
  "mark":{"type":"text","align":"left","baseline":"middle","color":"#131722","fontSize":25,"font":"Inter","text":"TradingView"},
  "encoding":{"x":{"datum":7.6,"scale":{"domain":[-0.48,334.6],"nice":false,"zero":false,"padding":0}},"y":{"datum":21505,"scale":{"domain":[22077,30373],"nice":false,"zero":false}}}}
]}
],
"resolve":{"scale":{"y":"independent"}}
}
